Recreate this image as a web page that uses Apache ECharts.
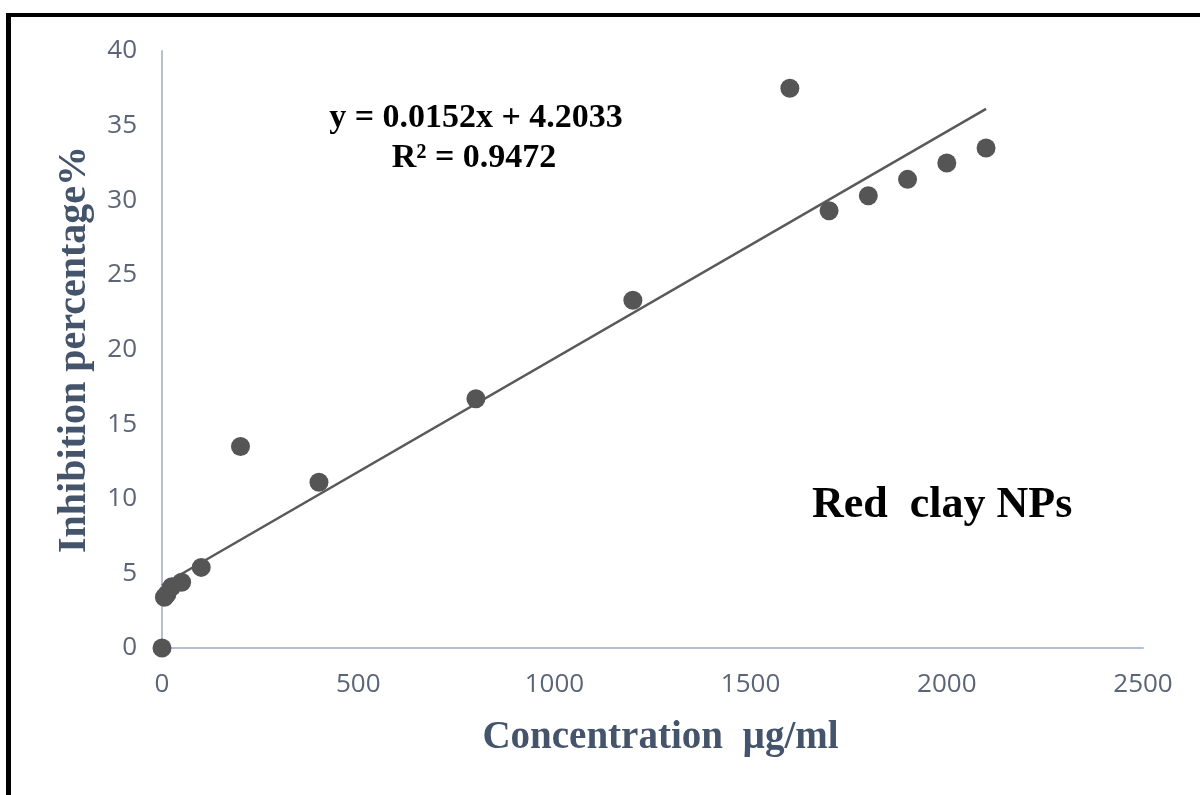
<!DOCTYPE html>
<html>
<head>
<meta charset="utf-8">
<script src="https://cdn.jsdelivr.net/npm/echarts@6/dist/echarts.min.js"></script>
<style>
html,body{margin:0;padding:0;background:#fff;}
#chart{width:1200px;height:795px;}
</style>
</head>
<body>
<div id="chart"></div>
<script>
// Data
var concentrations = [0, 6.25, 12.5, 25, 50, 100, 200, 400, 800, 1200, 1600, 1700, 1800, 1900, 2000, 2100];
var inhibition = [0, 3.4, 3.6, 4.1, 4.4, 5.4, 13.5, 11.1, 16.7, 23.3, 37.5, 29.3, 30.3, 31.4, 32.5, 33.5];
var trendSlope = 0.0152;
var trendIntercept = 4.2033;
var trendRange = [0, 2100];
var equationText = 'y = 0.0152x + 4.2033';
var r2Text = 'R² = 0.9472';
var seriesLabel = 'Red  clay NPs';
var xTitle = 'Concentration  µg/ml';
var yTitle = 'Inhibition percentage%';

var points = concentrations.map(function (x, i) { return [x, inhibition[i]]; });
var trendPoints = trendRange.map(function (x) { return [x, trendSlope * x + trendIntercept]; });

var chart = echarts.init(document.getElementById('chart'));
var axisLabelStyle = { color: '#5b6577', fontSize: 26, fontFamily: 'Open Sans', formatter: function (v) { return String(v); } };
chart.setOption({
  backgroundColor: '#ffffff',
  animation: false,
  grid: { left: 162, top: 51, right: 57, bottom: 147 },
  xAxis: {
    type: 'value', min: 0, max: 2500, interval: 500,
    name: xTitle, nameLocation: 'middle', nameGap: 70,
    nameTextStyle: { color: '#44546a', fontSize: 39, fontWeight: 'bold', fontFamily: 'Liberation Serif', padding: [0, 0, 0, 16] },
    axisLine: { show: true, lineStyle: { color: '#b4bfd2', width: 2 } },
    axisTick: { show: false },
    splitLine: { show: false },
    axisLabel: Object.assign({ margin: 24 }, axisLabelStyle)
  },
  yAxis: {
    type: 'value', min: 0, max: 40, interval: 5,
    name: yTitle, nameLocation: 'middle', nameGap: 67, nameRotate: 90,
    nameTextStyle: { color: '#44546a', fontSize: 40, fontWeight: 'bold', fontFamily: 'Liberation Serif' },
    axisLine: { show: true, lineStyle: { color: '#b4bfd2', width: 2 } },
    axisTick: { show: false },
    splitLine: { show: false },
    axisLabel: Object.assign({ margin: 25 }, axisLabelStyle)
  },
  series: [
    {
      type: 'line', data: trendPoints, symbol: 'none', silent: true,
      lineStyle: { color: '#595959', width: 2.5 }, z: 2
    },
    {
      type: 'scatter', data: points, symbol: 'circle', symbolSize: 19,
      itemStyle: { color: '#555555', opacity: 1 }, z: 3
    }
  ],
  graphic: [
    { type: 'line', shape: { x1: 6, y1: 15, x2: 1200, y2: 15 }, style: { stroke: '#000', lineWidth: 4 } },
    { type: 'line', shape: { x1: 8.5, y1: 13, x2: 8.5, y2: 795 }, style: { stroke: '#000', lineWidth: 5 } },
    { type: 'text', x: 476, y: 118, style: { text: equationText, textAlign: 'center', textVerticalAlign: 'middle', fill: '#000', font: 'bold 34px "Liberation Serif"' } },
    { type: 'text', x: 474, y: 158, style: { text: r2Text, textAlign: 'center', textVerticalAlign: 'middle', fill: '#000', font: 'bold 34px "Liberation Serif"' } },
    { type: 'text', x: 812, y: 506, style: { text: seriesLabel, textAlign: 'left', textVerticalAlign: 'middle', fill: '#000', font: 'bold 44px "Liberation Serif"' } }
  ]
});
</script>
</body>
</html>
